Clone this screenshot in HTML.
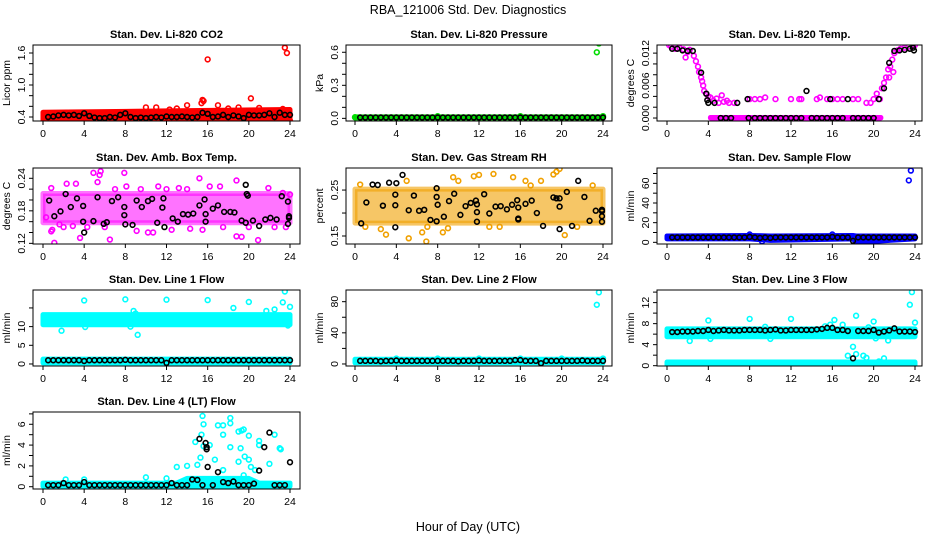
<!DOCTYPE html>
<html><head><meta charset="utf-8"><style>
html,body{margin:0;padding:0;background:#fff;}
svg{display:block;font-family:"Liberation Sans",Arial,sans-serif;}
</style></head><body>
<svg id="chart" width="936" height="540" viewBox="0 0 936 540">
<text x="468" y="14" font-size="12.5" text-anchor="middle">RBA_121006  Std. Dev. Diagnostics</text>
<text x="468" y="531" font-size="12.5" text-anchor="middle">Hour of Day (UTC)</text>
</svg>
<script>
const hours=[0.5,1,1.5,2,2.5,3,3.5,4,4.5,5,5.5,6,6.5,7,7.5,8,8.5,9,9.5,10,10.5,11,11.5,12,12.5,13,13.5,14,14.5,15,15.5,16,16.5,17,17.5,18,18.5,19,19.5,20,20.5,21,21.5,22,22.5,23,23.5,24];
const xTicks=[0,4,8,12,16,20,24];

// Panel 1 CO2
const co2Black=[0.40,0.41,0.43,0.44,0.43,0.44,0.42,0.47,0.42,0.39,0.38,0.38,0.40,0.39,0.44,0.47,0.40,0.38,0.39,0.38,0.39,0.40,0.39,0.41,0.40,0.40,0.41,0.40,0.39,0.40,0.48,0.46,0.40,0.41,0.44,0.40,0.43,0.41,0.38,0.44,0.43,0.43,0.44,0.47,0.40,0.48,0.44,0.44];
const co2BandT=[0,10,24], co2BandLo=[0.34,0.34,0.34], co2BandHi=[0.49,0.51,0.54];
const co2Pts=[[16,1.48],[23.5,1.7],[23.7,1.6],[15.5,0.72],[15.4,0.66],[15.6,0.7],[10,0.58],[11,0.58],[14,0.62],[17,0.62],[18,0.56],[19,0.58],[20.2,0.75],[21,0.57],[23.3,0.55],[16,0.31],[8,0.33],[24,0.33],[13,0.56],[12.3,0.54]];
// Panel 2 pressure
const presBlack=[0.008,0.008,0.008,0.008,0.008,0.008,0.008,0.008,0.008,0.008,0.008,0.008,0.008,0.008,0.008,0.008,0.008,0.008,0.008,0.008,0.008,0.008,0.008,0.008,0.008,0.008,0.008,0.008,0.008,0.008,0.008,0.008,0.008,0.008,0.008,0.008,0.008,0.008,0.008,0.008,0.008,0.008,0.008,0.008,0.008,0.008,0.008,0.008];
const presBandT=[0,24], presBandLo=[0.004,0.004], presBandHi=[0.014,0.014];
const presPts=[[23.4,0.6],[23.6,0.68],[8,0.02],[16,0.02],[24,0.02],[0,0.01]];
// Panel 3 temp
const tempBlk=[[0.5,0.0128],[1,0.0128],[1.5,0.0125],[2,0.0124],[2.5,0.0124],[3.3,0.0084],[3.8,0.0045],[3.9,0.0033],[4,0.0028],[4.6,0.0028],[5.2,0],[5.7,0],[6.2,0],[6.8,0.0028],[7.8,0.0035],[7.9,0],[8.5,0],[9,0],[9.5,0],[10,0],[10.5,0],[11,0],[11.5,0],[12,0],[12.5,0],[13,0],[13.5,0.0050],[14,0],[14.5,0],[15,0],[15.5,0],[15.8,0.0035],[16,0],[16.5,0],[17,0],[17.5,0.0035],[18,0],[18.5,0],[19,0],[19.5,0],[20,0],[20.5,0.0035],[21,0.0055],[21.5,0.0102],[22,0.0124],[22.5,0.0125],[23,0.0126],[23.5,0.0128],[23.8,0.013],[23.9,0.0125]];
const tempBandT=[4.2,20.7], tempBandLo=[0,0], tempBandHi=[0.0001,0.0001];
const tempPts=[[0.2,0.0135],[0.4,0.0132],[0.8,0.0128],[1.2,0.013],[1.6,0.0127],[2,0.0122],[2.2,0.0126],[1.8,0.0112],[2.6,0.0115],[2.8,0.0105],[3,0.0095],[3.1,0.0085],[3.3,0.0075],[3.4,0.0068],[3.5,0.006],[3.6,0.005],[3.8,0.0045],[4,0.004],[4.2,0.0038],[4.5,0.0032],[4.8,0.0036],[5,0.0028],[5.3,0.0042],[5.5,0.003],[5.8,0.0032],[6,0.0028],[6.5,0.0028],[8,0.0035],[8.5,0.0035],[9,0.0035],[9.5,0.0038],[10.5,0.0035],[12,0.0035],[12.8,0.0035],[13,0.0035],[14.5,0.0035],[14.8,0.0038],[15.5,0.0035],[16,0.0035],[16.5,0.0035],[17,0.0035],[18,0.0035],[18.5,0.0035],[19.3,0.0028],[19.7,0.0028],[20,0.0035],[20.3,0.0045],[20.6,0.0035],[20.8,0.0055],[21,0.0065],[21.2,0.0075],[21.4,0.009],[21.6,0.0095],[21.8,0.0108],[22,0.012],[22.3,0.0125],[22.6,0.0128],[23,0.013],[23.4,0.0132],[23.8,0.0133],[24,0.0135],[21.5,0.0075],[21.9,0.0085]];
// Panel 4 amb box temp
const ambBlk=[[0.6,0.199],[1.1,0.170],[1.7,0.179],[2.2,0.211],[2.7,0.187],[3.3,0.203],[3.9,0.189],[3.9,0.160],[4,0.140],[4.9,0.161],[5.3,0.205],[5.9,0.156],[6.2,0.159],[6.7,0.198],[7.3,0.205],[7.9,0.172],[7.9,0.187],[8,0.155],[8.7,0.154],[9.1,0.199],[9.6,0.187],[10.2,0.198],[10.6,0.202],[11.1,0.158],[11.6,0.186],[11.7,0.203],[11.8,0.150],[12.6,0.166],[13.1,0.160],[13.6,0.174],[14.1,0.173],[14.6,0.175],[15.2,0.190],[15.7,0.201],[15.8,0.174],[15.8,0.160],[16.5,0.184],[17,0.190],[17.6,0.178],[18.2,0.178],[18.6,0.177],[19.3,0.162],[19.7,0.228],[19.8,0.211],[19.9,0.208],[19.7,0.158],[20.4,0.162],[21,0.152],[21.6,0.164],[22.1,0.167],[22.7,0.164],[23.2,0.207],[23.8,0.197],[23.8,0.156],[23.9,0.170],[23.9,0.167]];
const ambBandT=[0,24], ambBandLo=[0.158,0.158], ambBandHi=[0.212,0.212];
const ambPts=[[1.1,0.121],[0.8,0.142],[0.9,0.145],[1.6,0.155],[0.8,0.222],[2.3,0.230],[3.2,0.230],[3.6,0.130],[4.9,0.250],[5.5,0.246],[5.6,0.253],[5.3,0.233],[6.5,0.127],[7.9,0.250],[8.1,0.225],[9.1,0.143],[10.2,0.140],[10.7,0.140],[11.2,0.225],[12.5,0.145],[13.2,0.222],[14.3,0.147],[15.2,0.240],[15.5,0.145],[16.2,0.225],[17.2,0.225],[18.8,0.236],[18.8,0.133],[19.3,0.132],[20.9,0.126],[21.9,0.222],[23.3,0.213],[23.6,0.150],[24,0.210],[0.3,0.168],[2.9,0.152],[4.3,0.150],[6,0.150],[9.5,0.22],[14,0.22],[17.5,0.15],[20,0.15],[22.5,0.15],[2,0.15],[7,0.22],[12,0.22]];
// Panel 5 RH
const rhBlk=[[0.6,0.1775],[1.1,0.223],[1.7,0.262],[2.2,0.261],[2.7,0.216],[3.3,0.266],[3.9,0.240],[3.9,0.217],[4,0.265],[3.9,0.169],[4.6,0.283],[5.2,0.206],[5.7,0.238],[6.2,0.205],[6.7,0.207],[7.3,0.185],[7.9,0.182],[7.9,0.235],[7.9,0.254],[8,0.218],[8.6,0.192],[9.1,0.226],[9.6,0.242],[10.2,0.196],[10.7,0.215],[11.2,0.222],[11.7,0.227],[11.8,0.219],[11.8,0.202],[11.8,0.181],[12.5,0.241],[13,0.199],[13.6,0.214],[14.1,0.215],[14.7,0.208],[15.2,0.218],[15.7,0.228],[15.8,0.212],[15.8,0.188],[15.8,0.186],[16.5,0.220],[17.1,0.227],[17.6,0.200],[18.2,0.172],[19.2,0.234],[19.5,0.232],[19.8,0.232],[19.8,0.214],[19.8,0.165],[20.5,0.246],[21,0.172],[21.6,0.270],[22.2,0.235],[22.7,0.183],[23.3,0.205],[23.9,0.207],[23.9,0.204],[23.9,0.193],[23.9,0.181]];
const rhBandT=[0,24], rhBandLo=[0.178,0.178], rhBandHi=[0.252,0.252];
const rhPts=[[0.5,0.262],[3,0.153],[5.2,0.145],[6.5,0.158],[6.9,0.138],[8.5,0.158],[9,0.167],[9.5,0.278],[11.5,0.280],[12,0.283],[13.4,0.285],[15.3,0.278],[19.2,0.284],[19.8,0.296],[19.5,0.290],[20.3,0.152],[2.5,0.165],[16.5,0.270],[18,0.270],[1,0.17],[5,0.27],[7,0.17],[10,0.27],[14,0.17],[17,0.26],[21.5,0.17],[23,0.26],[13,0.17]];
// Panel 6 sample flow
const sfBlack=[5,5,5,5,5,5,5,5,5,5,5,5,5,5,5,5.5,5,4.5,5,4.5,5,5,5,5,5,5,5,5,5,5,5,5.5,5,5,5,1.5,5,5,5,5,5,5,5,5,5,5,5,5];
const sfBandT=[0,8,10,18,18.3,24], sfBandLo=[3.5,3.5,2,3.5,0,3.5], sfBandHi=[6.5,7,6.5,7,6.5,6.5];
const sfPts=[[23.4,63],[23.6,73],[8,8],[16,8],[9.2,1]];
// Panel 7 line 1
const l1Black=[1,1,1,1,1,1,1,0.8,1,1,1,1,1,1,1,1.1,1,1,1,1,1,1,1,0.3,1,1,1,1,1,1,1,1,1,1,1,1,1,1,1,1,1,1,1,1,1,1,1,1];
const l1BandT=[0,24], l1BandLo=[10.5,10.5], l1BandHi=[13.2,13.2];
const l1LowT=[0,24], l1LowLo=[0.3,0.3], l1LowHi=[1.3,1.3];
const l1Pts=[[1.8,8.9],[4,17],[4.1,9.9],[8,17.3],[8.5,10],[8.8,14.2],[9,13.5],[9.2,7.8],[12,17.2],[16,17.1],[18.5,15],[20,16.6],[21.7,14.2],[22.5,14.6],[23.3,16.5],[23.5,19.4],[24,15.3],[23.8,10.3],[6,0]];
// Panel 8 line 2
const l2Black=[4,4,4,4,3.5,4,4,4.5,4,4,4,4,4,4,4,4,4,4,4,3.5,4,4,4,4.5,4,4,4,4,4,4,5,5,4,4,4,1,4,4,4,4,4,4,4,4.5,4,4,4,4];
const l2BandT=[0,24], l2BandLo=[1.5,1.5], l2BandHi=[6,6];
const l2Pts=[[23.4,76],[23.6,92],[4,7],[8,7],[12,7],[16,7],[20,7],[24,7]];
// Panel 9 line 3
const l3Black=[6.4,6.4,6.5,6.5,6.5,6.6,6.6,6.8,6.6,6.7,6.8,6.7,6.7,6.7,6.8,6.8,6.8,6.8,6.7,6.8,6.9,6.7,6.7,6.8,6.8,6.8,6.8,6.8,6.9,7.0,7.2,7.2,6.8,6.8,6.6,1.4,6.6,6.6,6.6,6.8,6.3,6.5,6.7,7.1,6.5,6.5,6.5,6.4];
const l3BandT=[0,24], l3BandLo=[5.5,5.5], l3BandHi=[7,7];
const l3LowT=[0,24], l3LowLo=[0.2,0.2], l3LowHi=[0.7,0.7];
const l3Pts=[[2.2,4.7],[4,8.6],[4.2,5.1],[8,8.9],[9.5,7.4],[10,5.1],[12,8.9],[15.3,7.5],[15.8,7.8],[16.2,8.7],[17,7.8],[17.5,1.9],[18,3.6],[18.3,9.5],[18.3,2.2],[19,1.9],[19.3,1.5],[19.5,7.3],[20,8.4],[20.2,5.2],[20.5,0.8],[21,1.4],[21.4,4.8],[23.5,11.6],[23.7,14],[24,8.2]];
// Panel 10 line 4
const l4Black=[0.15,0.15,0.15,0.35,0.15,0.15,0.15,0.45,0.15,0.15,0.15,0.15,0.15,0.15,0.15,0.15,0.15,0.15,0.15,0.15,0.15,0.15,0.15,0.15,0.35,0.15,0.15,0.15,0.7,0.65,0.15,1.9,0.15,1.4,0.45,0.35,0.5,0.15,0.15,0.15,0.3,1.55,3.8,5.2,0.15,0.15,0.15,2.35];
const l4ExtraBlk=[[15.2,4.6],[15.8,4.2],[15.9,3.8],[15.9,3.6]];
const l4BandT=[0,13,14,20,21,24], l4BandLo=[0.05,0.05,0.05,0.05,0.05,0.05], l4BandHi=[0.35,0.35,0.8,0.8,0.35,0.35];
const l4Pts=[[15.5,6.8],[15.6,6],[15.4,5],[15.6,3.9],[14.8,4.3],[16.2,4],[15.3,2.8],[15,2.1],[14,2],[13,1.9],[16.7,2.6],[17,5.9],[17.5,5.9],[17.5,5],[18.2,6.6],[18.2,6.1],[18.2,3.8],[17.5,1.6],[19,5.3],[19.3,5.4],[19.5,5.5],[19.2,3.7],[19,2.4],[19.6,2.9],[19.5,1.1],[20,4.9],[20,2.6],[20.2,1.9],[20.6,1.6],[21,4.4],[21,4],[22,2.2],[22.5,5],[23,3.7],[23.1,3.6],[10,0.9],[12,0.8],[2.2,0.7],[4,0.7]];

const svg=document.getElementById('chart');
const NS='http://www.w3.org/2000/svg';
function mk(tag,attrs,parent){const e=document.createElementNS(NS,tag);for(const k in attrs)e.setAttribute(k,attrs[k]);(parent||svg).appendChild(e);return e;}
const cols=[{bx:33,bw:267,x0:43,x24:290},{bx:346,bw:266,x0:355,x24:603},{bx:657,bw:265,x0:667,x24:915}];
const rows=[{top:45,bot:121},{top:168,bot:244},{top:290,bot:366},{top:412,bot:489}];

function panel(o){
  const c=cols[o.col], r=rows[o.row];
  const g=mk('g',{});
  
  
  const X=t=>c.x0+(t/24)*(c.x24-c.x0);
  const Y=v=>r.bot-(v-o.ymin)/(o.ymax-o.ymin)*(r.bot-r.top);
  const clip='clip'+o.col+o.row;
  const cp=mk('clipPath',{id:clip},g); mk('rect',{x:c.bx,y:r.top,width:c.bw,height:r.bot-r.top},cp);
  const pg=mk('g',{'clip-path':'url(#'+clip+')'},g);
  (o.bands||[]).forEach(b=>{
    const pts=b.t.map((t,i)=>X(t)+','+Y(b.hi[i])).concat(b.t.map((t,i)=>X(t)+','+Y(b.lo[i])).reverse());
    const p=mk('polygon',{points:pts.join(' '),fill:o.color,stroke:o.color,'stroke-width':5,'stroke-linejoin':'round','fill-opacity':b.op||1,'stroke-opacity':b.op||1},pg);
    
    
  });
  (o.pts||[]).forEach(p=>{
    const e=mk('circle',{cx:X(p[0]),cy:Y(p[1]),r:2.4,fill:'none',stroke:o.color,'stroke-width':1.6},pg);
    
    
  });
  const blk=(o.blkV?o.blkV.map((v,i)=>[hours[i],v]):[]).concat(o.blkP||[]);
  blk.forEach(p=>{
    const e=mk('circle',{cx:X(p[0]),cy:Y(p[1]),r:2.4,fill:'none',stroke:'#000','stroke-width':1.6},pg);
    
    
  });
  const box=mk('rect',{x:c.bx,y:r.top,width:c.bw,height:r.bot-r.top,fill:'none',stroke:'#000','stroke-width':1},g);
  
  
  const tt=mk('text',{x:c.bx+c.bw/2,y:r.top-7,'font-size':11,'font-weight':'bold','text-anchor':'middle'},g);
  tt.textContent=o.title;
  
  
  xTicks.forEach(t=>{
    mk('line',{x1:X(t),x2:X(t),y1:r.bot,y2:r.bot+4,stroke:'#000'},g);
    const e=mk('text',{x:X(t),y:r.bot+16,'font-size':10.5,'text-anchor':'middle'},g);
    e.textContent=t;
    
    
  });
  o.yTicks.forEach(v=>{
    mk('line',{x1:c.bx,x2:c.bx-4,y1:Y(v),y2:Y(v),stroke:'#000'},g);
  });
  o.yLabels.forEach(v=>{
    const x=c.bx-8,y=Y(v);
    const e=mk('text',{x:x,y:y,'font-size':10.5,'text-anchor':'middle',transform:'rotate(-90 '+x+' '+y+')'},g);
    e.textContent=v.toFixed(o.dec);
    
    
  });
  const lx=c.bx-23, ly=(r.top+r.bot)/2;
  const yl=mk('text',{x:lx,y:ly,'font-size':10.5,'text-anchor':'middle',transform:'rotate(-90 '+lx+' '+ly+')'},g);
  yl.textContent=o.ylab;
  
  
}

panel({name:'panel-co2',col:0,row:0,title:'Stan. Dev. Li-820 CO2',ylab:'Licor ppm',color:'#ff0000',ymin:0.325,ymax:1.75,yTicks:[0.4,0.6,0.8,1.0,1.2,1.4,1.6],yLabels:[0.4,1.0,1.6],dec:1,bands:[{t:co2BandT,lo:co2BandLo,hi:co2BandHi}],pts:co2Pts,blkV:co2Black});
panel({name:'panel-pressure',col:1,row:0,title:'Stan. Dev. Li-820 Pressure',ylab:'kPa',color:'#00dd00',ymin:-0.024,ymax:0.666,yTicks:[0,0.1,0.2,0.3,0.4,0.5,0.6],yLabels:[0,0.3,0.6],dec:1,bands:[{t:presBandT,lo:presBandLo,hi:presBandHi}],pts:presPts,blkV:presBlack});
panel({name:'panel-temp',col:2,row:0,title:'Stan. Dev. Li-820 Temp.',ylab:'degrees C',color:'#ff00ff',ymin:-0.00055,ymax:0.0135,yTicks:[0,0.002,0.004,0.006,0.008,0.01,0.012],yLabels:[0,0.006,0.012],dec:3,bands:[{t:tempBandT,lo:tempBandLo,hi:tempBandHi}],pts:tempPts,blkP:tempBlk});
panel({name:'panel-amb-box',col:0,row:1,title:'Stan. Dev. Amb. Box Temp.',ylab:'degrees C',color:'#ff00ff',ymin:0.1188,ymax:0.259,yTicks:[0.12,0.14,0.16,0.18,0.2,0.22,0.24],yLabels:[0.12,0.18,0.24],dec:2,bands:[{t:ambBandT,lo:ambBandLo,hi:ambBandHi,op:0.55}],pts:ambPts,blkP:ambBlk});
panel({name:'panel-rh',col:1,row:1,title:'Stan. Dev. Gas Stream RH',ylab:'percent',color:'#f0a000',ymin:0.1326,ymax:0.298,yTicks:[0.15,0.2,0.25],yLabels:[0.15,0.25],dec:2,bands:[{t:rhBandT,lo:rhBandLo,hi:rhBandHi,op:0.6}],pts:rhPts,blkP:rhBlk});
panel({name:'panel-sample-flow',col:2,row:1,title:'Stan. Dev. Sample Flow',ylab:'ml/min',color:'#0000ff',ymin:-1.7,ymax:75.6,yTicks:[0,10,20,30,40,50,60,70],yLabels:[0,20,40,60],dec:0,bands:[{t:sfBandT,lo:sfBandLo,hi:sfBandHi}],pts:sfPts,blkV:sfBlack});
panel({name:'panel-line1',col:0,row:2,title:'Stan. Dev. Line 1 Flow',ylab:'ml/min',color:'#00ffff',ymin:-0.54,ymax:19.8,yTicks:[0,5,10,15],yLabels:[0,5,10],dec:0,bands:[{t:l1BandT,lo:l1BandLo,hi:l1BandHi},{t:l1LowT,lo:l1LowLo,hi:l1LowHi}],pts:l1Pts,blkV:l1Black});
panel({name:'panel-line2',col:1,row:2,title:'Stan. Dev. Line 2 Flow',ylab:'ml/min',color:'#00ffff',ymin:-2.6,ymax:95,yTicks:[0,20,40,60,80],yLabels:[0,40,80],dec:0,bands:[{t:l2BandT,lo:l2BandLo,hi:l2BandHi}],pts:l2Pts,blkV:l2Black});
panel({name:'panel-line3',col:2,row:2,title:'Stan. Dev. Line 3 Flow',ylab:'ml/min',color:'#00ffff',ymin:-0.06,ymax:14.4,yTicks:[0,2,4,6,8,10,12,14],yLabels:[0,4,8,12],dec:0,bands:[{t:l3BandT,lo:l3BandLo,hi:l3BandHi},{t:l3LowT,lo:l3LowLo,hi:l3LowHi}],pts:l3Pts,blkV:l3Black});
panel({name:'panel-line4',col:0,row:3,title:'Stan. Dev. Line 4 (LT) Flow',ylab:'ml/min',color:'#00ffff',ymin:-0.22,ymax:7.18,yTicks:[0,1,2,3,4,5,6,7],yLabels:[0,2,4,6],dec:0,bands:[{t:l4BandT,lo:l4BandLo,hi:l4BandHi}],pts:l4Pts,blkV:l4Black,blkP:l4ExtraBlk});
</script>
</body></html>
